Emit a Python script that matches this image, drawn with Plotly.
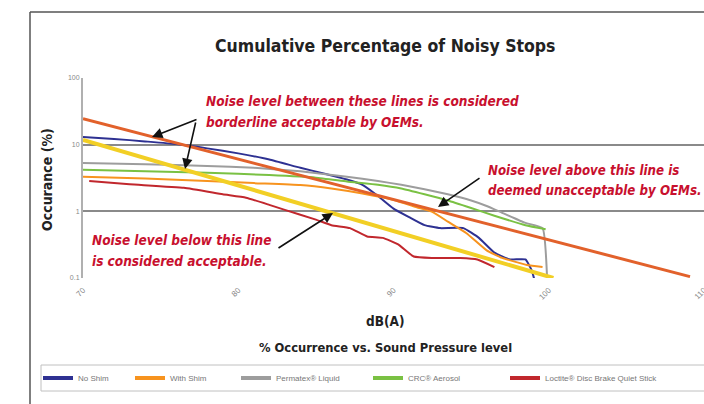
import plotly.graph_objects as go

# ---------------- data ----------------
series_names = ["No Shim", "With Shim", "Permatex® Liquid", "CRC® Aerosol",
                "Loctite® Disc Brake Quiet Stick"]
series_colors = ["#2e3192", "#f7931e", "#9d9d9d", "#7ac143", "#c1272d"]

db_no_shim = [70, 72, 74, 76, 78, 80, 82, 84, 85.5, 87, 88, 89, 90, 91, 92, 93,
              94.5, 95.5, 96.5, 97.5, 98.5, 98.9, 99.1]
pct_no_shim = [13, 12.2, 11.2, 10.2, 8.8, 7.4, 6.0, 4.5, 3.7, 3.0, 2.5, 1.7, 1.1,
               0.82, 0.62, 0.56, 0.56, 0.4, 0.24, 0.19, 0.19, 0.13, 0.09]

db_with_shim = [70, 74, 78, 81, 84, 86, 88, 90, 91.5, 92.5, 93.5, 94.7, 96, 97,
                98.6, 99.6]
pct_with_shim = [3.3, 3.1, 2.85, 2.65, 2.48, 2.2, 1.85, 1.48, 1.15, 0.98, 0.7,
                 0.47, 0.26, 0.2, 0.157, 0.146]

db_permatex = [70, 74, 78, 81, 84, 87, 89, 90.5, 92, 93.5, 95, 96, 97, 98.5,
               99.6, 99.9]
pct_permatex = [5.3, 5.1, 4.8, 4.5, 4.0, 3.3, 2.85, 2.5, 2.15, 1.8, 1.45, 1.2,
                0.95, 0.67, 0.56, 0.09]

db_crc = [70, 74, 78, 82, 85, 87, 89, 90.5, 92, 93.5, 95, 96.5, 98.5, 99.8]
pct_crc = [4.2, 4.0, 3.8, 3.5, 3.2, 2.8, 2.5, 2.2, 1.8, 1.45, 1.12, 0.86, 0.62, 0.54]

db_loctite = [70.4, 73, 76.5, 79, 80.5, 82, 83, 85, 86, 87.2, 88.3, 89.3, 90.3,
              91.3, 92.5, 94.3, 95.4, 96.5]
pct_loctite = [2.85, 2.55, 2.25, 1.8, 1.6, 1.25, 1.05, 0.75, 0.62, 0.56, 0.42,
               0.4, 0.32, 0.21, 0.2, 0.2, 0.19, 0.146]

db_unacceptable = [70, 109.1]
pct_unacceptable = [24.5, 0.105]
db_acceptable = [70, 100.3]
pct_acceptable = [11.8, 0.1]

x_ticks = [70, 80, 90, 100, 110]
y_ticks = [0.1, 1, 10, 100]
y_tick_text = ["0.1", "1", "10", "100"]

# ---------------- layout helpers ----------------
W, H = 704, 404
L, R, T, B = 83, 0, 78, 126
PW, PH = W - L - R, H - T - B


def px(x):
    return (x - L) / PW


def py(y):
    return (H - B - y) / PH


NARROW = "Liberation Sans Narrow, DejaVu Sans Condensed, Arial Narrow, sans-serif"
SANS = "Liberation Sans, Arial, sans-serif"
RED = "#c8102e"

fig = go.Figure()

all_db = [db_no_shim, db_with_shim, db_permatex, db_crc, db_loctite]
all_pct = [pct_no_shim, pct_with_shim, pct_permatex, pct_crc, pct_loctite]
for name, col, xs, ys in zip(series_names, series_colors, all_db, all_pct):
    fig.add_trace(go.Scatter(x=xs, y=ys, mode="lines", name=name,
                             line=dict(color=col, width=2, shape="spline",
                                       smoothing=0.4),
                             showlegend=False, hoverinfo="skip"))

fig.add_trace(go.Scatter(x=db_unacceptable, y=pct_unacceptable, mode="lines",
                         line=dict(color="#e2612b", width=3), showlegend=False,
                         hoverinfo="skip"))
fig.add_trace(go.Scatter(x=db_acceptable, y=pct_acceptable, mode="lines",
                         line=dict(color="#f2cf25", width=4), showlegend=False,
                         hoverinfo="skip"))

# legend entries, each in its own legend for exact placement
legend_text_x = [80, 172, 278, 410, 547]
legend_layouts = {}
for i, (name, col) in enumerate(zip(series_names, series_colors)):
    key = "legend" if i == 0 else f"legend{i + 1}"
    fig.add_trace(go.Scatter(x=[None], y=[None], mode="lines", name=name,
                             line=dict(color=col, width=4), legend=key,
                             showlegend=True))
    legend_layouts[key] = dict(
        x=px(legend_text_x[i] - 42), y=py(378), xanchor="left", yanchor="middle",
        orientation="h", bgcolor="rgba(0,0,0,0)", borderwidth=0,
        font=dict(family=SANS, size=8, color="#777777"), itemwidth=30)

annotations = []


def text_ann(txt, x, y, size, color="#222222", family=NARROW, xanchor="left",
             angle=0):
    annotations.append(dict(text=txt, x=px(x), y=py(y), xref="paper", yref="paper",
                            xanchor=xanchor, yanchor="middle", showarrow=False,
                            textangle=angle,
                            font=dict(family=family, size=size, color=color)))


def arrow(tip, tail):
    annotations.append(dict(text="", x=px(tip[0]), y=py(tip[1]), xref="paper",
                            yref="paper", ax=tail[0] - tip[0], ay=tail[1] - tip[1],
                            showarrow=True, arrowhead=2, arrowsize=1.3,
                            arrowwidth=1.6, arrowcolor="#111111"))


text_ann("<b>Cumulative Percentage of Noisy Stops</b>", 385, 46, 17.5,
         xanchor="center")
text_ann("<b>dB(A)</b>", 385, 321, 13.5, xanchor="center")
text_ann("<b>% Occurrence vs. Sound Pressure level</b>", 385, 347, 12.8,
         xanchor="center")
text_ann("<b>Occurance (%)</b>", 47, 180, 14, xanchor="center", angle=-90)

text_ann("<b><i>Noise level between these lines is considered</i></b>", 204, 101,
         13.5, color=RED)
text_ann("<b><i>borderline acceptable by OEMs.</i></b>", 204, 122, 13.5, color=RED)
text_ann("<b><i>Noise level above this line is</i></b>", 486, 170, 13.2, color=RED)
text_ann("<b><i>deemed unacceptable by OEMs.</i></b>", 486, 190, 13.2, color=RED)
text_ann("<b><i>Noise level below this line</i></b>", 90, 240, 13.5, color=RED)
text_ann("<b><i>is considered acceptable.</i></b>", 90, 261, 13.5, color=RED)

arrow((152, 137), (198, 119))
arrow((185, 169), (196, 121))
arrow((438, 207), (481, 177))
arrow((333, 213), (277, 249))

shapes = [
    # outer chart frame
    dict(type="line", xref="paper", yref="paper", x0=px(30), x1=px(30),
         y0=py(12), y1=py(410), line=dict(color="#555555", width=1.5)),
    dict(type="line", xref="paper", yref="paper", x0=px(30), x1=px(720),
         y0=py(12), y1=py(12), line=dict(color="#555555", width=1.5)),
    # legend box
    dict(type="rect", xref="paper", yref="paper", x0=px(41), x1=px(730),
         y0=py(365), y1=py(391), line=dict(color="#c0c0c0", width=1),
         layer="below"),
]

fig.update_layout(
    width=W, height=H,
    margin=dict(l=L, r=R, t=T, b=B, autoexpand=False),
    paper_bgcolor="white", plot_bgcolor="white",
    annotations=annotations, shapes=shapes,
    xaxis=dict(range=[70, 110], tickvals=x_ticks, tickangle=-45, showgrid=False,
               zeroline=False, showline=False, ticks="", automargin=False,
               ticklabeloverflow="allow", ticklabelstandoff=5,
               tickfont=dict(family=SANS, size=8, color="#888888")),
    yaxis=dict(type="log", range=[-1, 2], tickvals=y_ticks, ticktext=y_tick_text,
               showgrid=True, gridcolor="#8a8a8a", gridwidth=2, zeroline=False,
               showline=True, linecolor="#b0b0b0", linewidth=2, ticks="",
               automargin=False,
               tickfont=dict(family=SANS, size=7, color="#888888")),
    **legend_layouts,
)

fig.write_html("out.html", config={"displayModeBar": False},
               post_script="document.body.style.margin='0';"
                           "document.body.style.overflow='hidden';")
